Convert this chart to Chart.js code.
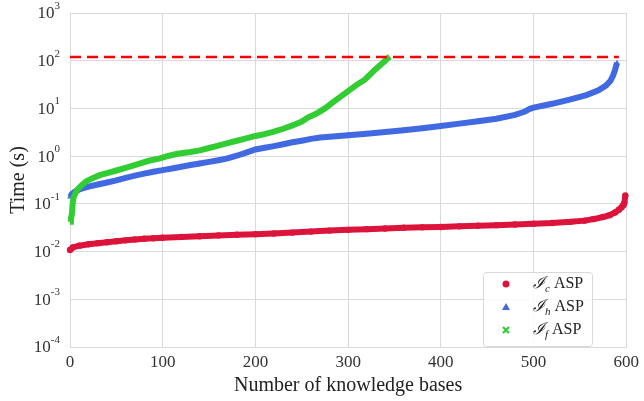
<!DOCTYPE html>
<html>
<head>
<meta charset="utf-8">
<script src="https://cdn.jsdelivr.net/npm/chart.js@4/dist/chart.umd.min.js"></script>
<style>
  html, body { margin: 0; padding: 0; background: #fff; }
  canvas { display: block; }
</style>
</head>
<body>
<canvas id="grafica" width="644" height="401"></canvas>
<script>
// datos (tiempo en segundos, escala log)
const redKB = [0, 3, 10, 20, 30, 40, 50, 60, 70, 80, 90, 100, 120, 140, 160, 180, 200, 220, 240, 260, 280, 300, 320, 340, 360, 380, 400, 420, 440, 460, 480, 500, 520, 540, 555, 565, 575, 582, 588, 592, 595, 597, 598, 599];
const redTime = [0.0108, 0.0122, 0.0133, 0.0142, 0.0150, 0.0157, 0.0165, 0.0172, 0.0180, 0.0185, 0.0190, 0.0195, 0.0203, 0.0210, 0.0218, 0.0225, 0.0232, 0.0240, 0.0250, 0.0262, 0.0275, 0.0285, 0.0295, 0.0305, 0.0315, 0.0322, 0.0328, 0.0338, 0.0348, 0.0358, 0.0370, 0.0385, 0.0398, 0.0420, 0.0445, 0.0480, 0.0530, 0.0580, 0.0660, 0.0750, 0.0850, 0.0950, 0.1050, 0.1500];

const blueKB = [0, 2, 5, 10, 20, 30, 40, 50, 60, 70, 80, 90, 100, 110, 120, 130, 140, 150, 160, 170, 180, 190, 200, 210, 220, 230, 240, 250, 260, 270, 280, 290, 300, 320, 340, 360, 380, 400, 420, 440, 460, 480, 490, 496, 500, 520, 540, 557, 570, 578, 583, 586, 588, 590];
const blueTime = [0.14, 0.16, 0.18, 0.20, 0.23, 0.255, 0.28, 0.31, 0.35, 0.39, 0.43, 0.47, 0.51, 0.55, 0.60, 0.65, 0.70, 0.76, 0.82, 0.90, 1.02, 1.18, 1.38, 1.5, 1.62, 1.78, 1.95, 2.1, 2.3, 2.45, 2.55, 2.65, 2.75, 2.95, 3.2, 3.5, 3.85, 4.3, 4.8, 5.4, 6.1, 7.3, 8.5, 9.8, 10.4, 12.5, 15.5, 19, 24, 30, 38, 50, 65, 90];

const greenKB = [0, 1, 2, 3, 4, 6, 8, 11, 15, 18, 25, 32, 40, 50, 60, 75, 85, 96, 107, 116, 130, 140, 150, 161, 170, 180, 190, 200, 210, 220, 230, 240, 250, 257, 265, 275, 282, 289, 300, 311, 318, 324, 329, 336, 341, 345];
const greenTime = [0.042, 0.05, 0.06, 0.11, 0.14, 0.17, 0.20, 0.23, 0.27, 0.30, 0.35, 0.40, 0.44, 0.50, 0.57, 0.70, 0.80, 0.89, 1.02, 1.12, 1.22, 1.32, 1.48, 1.68, 1.88, 2.1, 2.35, 2.65, 2.9, 3.25, 3.75, 4.4, 5.3, 6.5, 7.6, 10, 12.7, 16, 23, 33, 40, 52, 65, 85, 105, 122];

// limite de tiempo (linea discontinua)
const timeoutKB = [0, 592];
const timeoutTime = [120, 120];

const xTicks = [0, 100, 200, 300, 400, 500, 600];
const yExps = [-4, -3, -2, -1, 0, 1, 2, 3];

const seriesNames = ['c', 'h', 'f']; // subindices de la leyenda: I_c ASP, I_h ASP, I_f ASP
const colores = ['#dc143c', '#4169e1', '#32cd32'];
const estilos = ['circle', 'triangle', 'crossRot'];

const FUENTE = '"Liberation Serif", "DejaVu Serif", serif';

function puntos(xs, ys) {
    return xs.map((x, i) => ({ x: x, y: ys[i] }));
}

// etiquetas 10^n del eje y y leyenda dentro del area
const extras = {
    id: 'extras',
    afterDraw(chart) {
        const ctx = chart.ctx;
        const y = chart.scales.y;
        ctx.save();
        ctx.fillStyle = '#333';
        ctx.textBaseline = 'middle';
        yExps.forEach(e => {
            const py = y.getPixelForValue(Math.pow(10, e));
            const exp = e < 0 ? '-' + (-e) : String(e);
            ctx.font = '11px ' + FUENTE;
            const we = ctx.measureText(exp).width;
            const xr = y.right - 10;
            ctx.textAlign = 'left';
            ctx.fillText(exp, xr - we, py - 7);
            ctx.font = '17px ' + FUENTE;
            ctx.textAlign = 'right';
            ctx.fillText('10', xr - we, py + 1);
        });

        // leyenda
        const area = chart.chartArea;
        const bx = 483, bw = 109, bh = 74;
        const by = area.bottom - bh - 1;
        ctx.fillStyle = 'rgba(255,255,255,0.85)';
        ctx.strokeStyle = '#d8d8d8';
        ctx.lineWidth = 1;
        ctx.beginPath();
        ctx.roundRect(bx + 0.5, by + 0.5, bw, bh, 3);
        ctx.fill();
        ctx.stroke();

        seriesNames.forEach((s, i) => {
            const cy = by + 12 + i * 23;
            const mx = bx + 23;
            ctx.fillStyle = colores[i];
            ctx.strokeStyle = colores[i];
            ctx.beginPath();
            if (i === 0) {
                ctx.arc(mx, cy, 3.5, 0, Math.PI * 2);
                ctx.fill();
            } else if (i === 1) {
                ctx.moveTo(mx, cy - 4);
                ctx.lineTo(mx + 4, cy + 3);
                ctx.lineTo(mx - 4, cy + 3);
                ctx.closePath();
                ctx.fill();
            } else {
                ctx.lineWidth = 2.2;
                ctx.moveTo(mx - 3, cy - 3); ctx.lineTo(mx + 3, cy + 3);
                ctx.moveTo(mx + 3, cy - 3); ctx.lineTo(mx - 3, cy + 3);
                ctx.stroke();
            }
            ctx.fillStyle = '#222';
            ctx.textAlign = 'left';
            let tx = bx + 50;
            ctx.font = 'italic 16px ' + FUENTE;
            ctx.fillText('\u2110', tx, cy);
            tx += ctx.measureText('\u2110').width;
            ctx.font = 'italic 11px ' + FUENTE;
            ctx.fillText(s, tx, cy + 5);
            tx += ctx.measureText(s).width;
            ctx.font = '16px ' + FUENTE;
            ctx.fillText(' ASP', tx, cy);
        });
        ctx.restore();
    }
};

window.onload = function () {
    const comun = {
        showLine: true,
        borderWidth: 6,
        pointRadius: 3.2,
        pointBorderWidth: 0,
        clip: false
    };
    new Chart(document.getElementById('grafica'), {
        type: 'scatter',
        data: {
            datasets: [
                Object.assign({
                    label: 'I_c ASP', data: puntos(redKB, redTime),
                    borderColor: colores[0], backgroundColor: colores[0], pointStyle: estilos[0], order: 3
                }, comun),
                Object.assign({
                    label: 'I_h ASP', data: puntos(blueKB, blueTime),
                    borderColor: colores[1], backgroundColor: colores[1], pointStyle: estilos[1], order: 2
                }, comun),
                Object.assign({
                    label: 'I_f ASP', data: puntos(greenKB, greenTime),
                    borderColor: colores[2], backgroundColor: colores[2], pointStyle: estilos[2], order: 1
                }, comun),
                {
                    label: 'timeout', data: puntos(timeoutKB, timeoutTime),
                    showLine: true, borderColor: '#ff0000', borderWidth: 2.5,
                    borderDash: [11, 6], pointRadius: 0, order: 0, clip: false
                }
            ]
        },
        options: {
            responsive: false,
            animation: false,
            devicePixelRatio: 1,
            layout: { padding: { top: 13, right: 14, left: 0, bottom: 0 } },
            plugins: {
                legend: { display: false },
                tooltip: { enabled: false }
            },
            scales: {
                x: {
                    type: 'linear', min: 0, max: 600,
                    afterBuildTicks: s => { s.ticks = xTicks.map(v => ({ value: v })); },
                    afterFit: s => { s.height = 54; },
                    ticks: { color: '#333', font: { family: FUENTE, size: 17 }, padding: 5 },
                    grid: { color: '#d9d9d9', lineWidth: 1, tickLength: 0 },
                    border: { color: '#d9d9d9' },
                    title: {
                        display: true, text: 'Number of knowledge bases', color: '#222',
                        font: { family: FUENTE, size: 20 }, padding: { top: 0, bottom: 3 }
                    }
                },
                y: {
                    type: 'logarithmic', min: 1e-4, max: 1e3,
                    afterBuildTicks: s => { s.ticks = yExps.map(e => ({ value: Math.pow(10, e) })); },
                    afterFit: s => { s.width = 70; },
                    ticks: { display: false },
                    grid: { color: '#d9d9d9', lineWidth: 1, tickLength: 0 },
                    border: { color: '#d9d9d9' },
                    title: {
                        display: true, text: 'Time (s)', color: '#222',
                        font: { family: FUENTE, size: 20 }, padding: { top: 7, bottom: 0 }
                    }
                }
            }
        },
        plugins: [extras]
    });
};
</script>
</body>
</html>
